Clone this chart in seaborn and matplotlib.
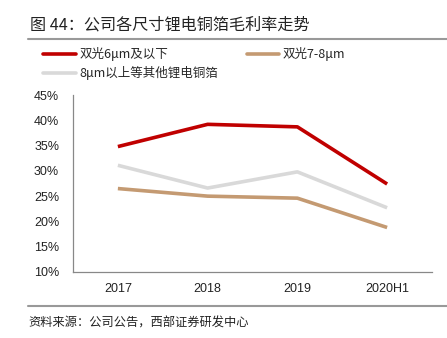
import matplotlib
matplotlib.use("Agg")
import matplotlib.pyplot as plt
import seaborn as sns
import pandas as pd
from matplotlib.lines import Line2D
from matplotlib.ticker import FixedLocator, FuncFormatter

categories = ["2017", "2018", "2019", "2020H1"]
series_names = ["双光6μm及以下", "双光7-8μm", "8μm以上等其他锂电铜箔"]
red_vals = [34.8, 39.2, 38.7, 27.4]
tan_vals = [26.5, 25.0, 24.6, 18.8]
gray_vals = [31.1, 26.6, 29.8, 22.7]
colors = ["#C00000", "#C49A72", "#D9D9D9"]

sns.set_theme(style="white")
plt.rcParams["font.family"] = ["Liberation Sans", "Noto Sans CJK SC", "DejaVu Sans"]

rows = []
for name, vals in zip(series_names, [red_vals, tan_vals, gray_vals]):
    for i, (c, v) in enumerate(zip(categories, vals)):
        rows.append({"x": i, "cat": c, "series": name, "value": v})
df = pd.DataFrame(rows)

fig = plt.figure(figsize=(4.47, 3.38), dpi=100)
ax = fig.add_axes([73 / 447, 1 - 272 / 338, (432 - 73) / 447, (272 - 95) / 338])

order = [series_names[2], series_names[1], series_names[0]]
pal = dict(zip(series_names, colors))
sns.lineplot(data=df, x="x", y="value", hue="series", hue_order=order, palette=pal,
             linewidth=2.6, ax=ax, legend=False, solid_capstyle="butt")

ax.set_xlim(-0.5, 3.5)
ax.set_ylim(10, 45)
ax.set_yticks([10, 15, 20, 25, 30, 35, 40, 45])
ax.yaxis.set_major_formatter(FuncFormatter(lambda v, p: f"{int(v)}%"))
ax.set_xticks(range(len(categories)))
ax.set_xticklabels(categories)
ax.xaxis.set_minor_locator(FixedLocator([-0.5, 0.5, 1.5, 2.5, 3.5]))
ax.tick_params(axis="x", which="major", length=0, labelsize=9, pad=8, colors="#222222")
ax.tick_params(axis="x", which="minor", length=4, direction="in", color="#888888", width=0.8)
ax.tick_params(axis="y", which="major", length=4, direction="in", color="#888888", width=0.8,
               labelsize=9, pad=10, labelcolor="#222222")
for lbl in ax.get_xticklabels():
    lbl.set_color("#222222")
ax.set_xlabel("")
ax.set_ylabel("")
for s in ["top", "right"]:
    ax.spines[s].set_visible(False)
for s in ["left", "bottom"]:
    ax.spines[s].set_color("#888888")
    ax.spines[s].set_linewidth(0.9)

cjk = ["Noto Sans CJK SC", "DejaVu Sans"]
# Title
fig.text(30 / 447, 1 - 25 / 338, "图 44：公司各尺寸锂电铜箔毛利率走势", fontsize=11.6,
         family=cjk, va="center", ha="left", color="#222222")
fig.add_artist(Line2D([28 / 447, 1.0], [1 - 39 / 338, 1 - 39 / 338], color="#999999", linewidth=1.5))
fig.add_artist(Line2D([28 / 447, 1.0], [1 - 306 / 338, 1 - 306 / 338], color="#999999", linewidth=1.5))
fig.text(28 / 447, 1 - 323 / 338, "资料来源：公司公告，西部证券研发中心", fontsize=8.8,
         family=cjk, va="center", ha="left", color="#222222")

# Legend
handles = [Line2D([], [], color=colors[0], linewidth=2.6),
           Line2D([], [], color=colors[1], linewidth=2.6),
           Line2D([], [], color=colors[2], linewidth=2.6)]
leg_font = {"family": cjk, "size": 9}
fig.legend(handles[:2], series_names[:2], loc="center left",
           bbox_to_anchor=(43 / 447, 1 - 54 / 338), ncol=2, frameon=False,
           prop=leg_font, handlelength=2.6, handletextpad=0.3, columnspacing=6.3,
           borderaxespad=0, borderpad=0)
fig.legend(handles[2:], series_names[2:], loc="center left",
           bbox_to_anchor=(43 / 447, 1 - 73 / 338), ncol=1, frameon=False,
           prop=leg_font, handlelength=2.6, handletextpad=0.3,
           borderaxespad=0, borderpad=0)

fig.savefig("out.png", dpi=100)
